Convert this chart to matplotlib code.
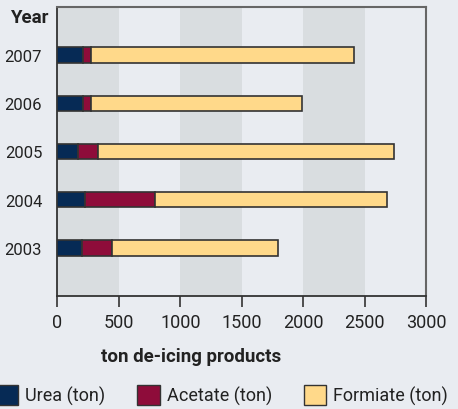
import matplotlib.pyplot as plt
from matplotlib.patches import Patch

plt.rcParams['font.family'] = ['Roboto', 'DejaVu Sans']

years = [2003, 2004, 2005, 2006, 2007]
urea = [200, 221, 164, 209, 209]
acetate = [246, 573, 163, 61, 61]
totals = [1793, 2686, 2740, 1989, 2412]
formiate = [t - u - a for t, u, a in zip(totals, urea, acetate)]

series = ['Urea (ton)', 'Acetate (ton)', 'Formiate (ton)']
colors = ['#062a55', '#8e0c3a', '#ffd98a']

BG = '#e9ecf1'
BAND = '#d9dde0'
TXT = '#222222'

fig = plt.figure(figsize=(4.58, 4.10), dpi=100, facecolor=BG)
ax = fig.add_axes([57.5 / 458, 1 - 297 / 410, 368.5 / 458, 289 / 410])
ax.set_facecolor(BG)

# alternating grey bands
for x0 in range(0, 3000, 1000):
    ax.axvspan(x0, x0 + 500, color=BAND, lw=0, zorder=0)

ypos = list(range(1, len(years) + 1))
h = 0.32
left = [0] * len(years)
for vals, c in zip([urea, acetate, formiate], colors):
    ax.barh(ypos, vals, height=h, left=left, color=c,
            edgecolor='#333333', linewidth=1.2, zorder=3)
    left = [l + v for l, v in zip(left, vals)]

ax.set_xlim(0, 3000)
ax.set_ylim(0, 6)
ax.set_xticks(range(0, 3001, 500))
ax.set_yticks(ypos)
ax.set_yticklabels([str(y) for y in years])
ax.tick_params(axis='x', direction='out', length=8, width=1.2, color='#333333',
               labelsize=13, labelcolor=TXT, pad=4)
ax.tick_params(axis='y', length=0, labelsize=12, labelcolor=TXT, pad=11)

for s in ['left', 'bottom']:
    ax.spines[s].set_color('#333333')
    ax.spines[s].set_linewidth(1.3)
for s in ['top', 'right']:
    ax.spines[s].set_color('#666666')
    ax.spines[s].set_linewidth(1.5)

fig.text(29 / 458, 1 - 18 / 410, 'Year', ha='center', va='center',
         fontsize=13.5, fontweight='bold', color=TXT)
fig.text(191 / 458, 1 - 357 / 410, 'ton de-icing products', ha='center',
         va='center', fontsize=13.5, fontweight='bold', color=TXT)

handles = [Patch(facecolor=c, edgecolor='#333333', linewidth=1) for c in colors]
fig.legend(handles, series, loc='center left', bbox_to_anchor=(-0.01, 1 - 396 / 410),
           ncol=3, frameon=False, fontsize=13, handlelength=1.25, handleheight=1.35,
           handletextpad=0.4, columnspacing=1.75, labelcolor=TXT, borderaxespad=0,
           borderpad=0)

plt.savefig('out.png', dpi=100, facecolor=BG)
